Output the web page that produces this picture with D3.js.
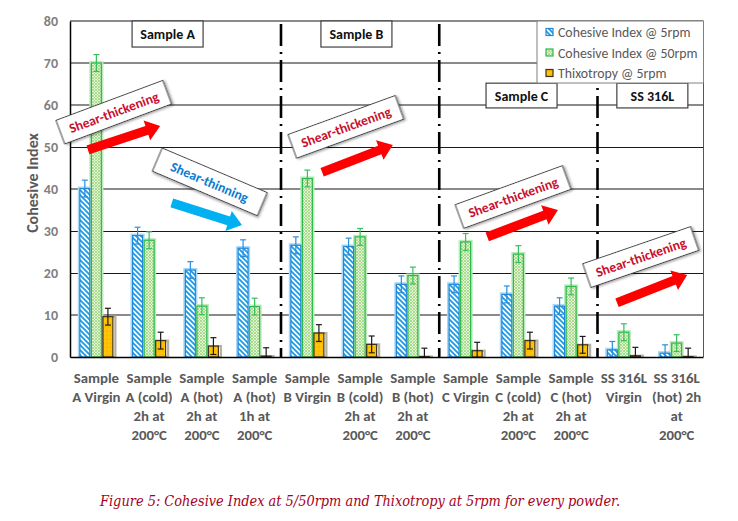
<!DOCTYPE html>
<html><head><meta charset="utf-8">
<script src="https://cdn.jsdelivr.net/npm/d3@7"></script>
<style>
body{margin:0;background:#fff}
svg{display:block}
text{font-family:Carlito,Lato,"Liberation Sans",sans-serif}
</style>
</head><body>
<svg id="chart" width="738" height="521"></svg>
<script>
// ---------- data ----------
const categories = ["A Virgin","A cold 2h","A hot 2h","A hot 1h","B Virgin","B cold 2h","B hot 2h","C Virgin","C cold 2h","C hot 2h","SS Virgin","SS hot 2h"];
const categoryLabels = [
  ["Sample","A Virgin"],
  ["Sample","A (cold)","2h at","200°C"],
  ["Sample","A (hot)","2h at","200°C"],
  ["Sample","A (hot)","1h at","200°C"],
  ["Sample","B Virgin"],
  ["Sample","B (cold)","2h at","200°C"],
  ["Sample","B (hot)","2h at","200°C"],
  ["Sample","C Virgin"],
  ["Sample","C (cold)","2h at","200°C"],
  ["Sample","C (hot)","2h at","200°C"],
  ["SS 316L","Virgin"],
  ["SS 316L","(hot) 2h","at","200°C"]
];
const seriesNames = ["Cohesive Index @ 5rpm","Cohesive Index @ 50rpm","Thixotropy @ 5rpm"];
const ci5     = [40.1, 28.9, 20.7, 25.9, 26.6, 26.3, 17.3, 17.3, 14.9, 12.1, 1.7, 0.9];
const ci5Err  = [2.0, 2.0, 2.0, 2.0, 2.0, 2.0, 2.0, 2.0, 2.0, 2.0, 2.0, 2.0];
const ci50    = [70.0, 27.8, 12.1, 12.0, 42.5, 28.6, 19.4, 27.4, 24.5, 16.8, 5.9, 3.3];
const ci50Err = [2.0, 2.0, 2.0, 2.0, 2.0, 2.0, 2.0, 2.0, 2.0, 2.0, 2.0, 2.0];
const thix    = [9.6, 3.9, 2.6, 0.2, 5.7, 3.0, 0.1, 1.5, 3.9, 2.9, 0.3, 0.1];
const thixErr = [2.0, 2.0, 2.0, 2.0, 2.0, 2.0, 2.0, 2.0, 2.0, 2.0, 2.0, 2.0];
const yTicks = [0, 10, 20, 30, 40, 50, 60, 70, 80];
const groupBreaks = [4, 7, 10];               // separator before these category indices
const groupBoxes = [
  {label:"Sample A", at:1.85, top:80,   bottom:73.8},
  {label:"Sample B", at:5.43, top:80,   bottom:73.8},
  {label:"Sample C", at:8.56, top:65.2, bottom:59.3},
  {label:"SS 316L",  at:11.04,top:65.2, bottom:59.3}
];
// annotations: box centre (category units, value units), arrow tail->tip
const annotations = [
  {text:"Shear-thickening", color:"#C8102E", arrow:"#FF0000", cx:0.83, cy:58.3, ang:-20.5, x0:0.34, y0:49.3, x1:1.71, y1:55.0},
  {text:"Shear-thinning",   color:"#0B7BD0", arrow:"#00B0F0", cx:2.65, cy:41.7, ang:23,    x0:1.93, y0:36.7, x1:3.26, y1:31.4},
  {text:"Shear-thickening", color:"#C8102E", arrow:"#FF0000", cx:5.23, cy:54.8, ang:-20,   x0:4.78, y0:44.0, x1:6.12, y1:50.5},
  {text:"Shear-thickening", color:"#C8102E", arrow:"#FF0000", cx:8.40, cy:38.1, ang:-20,   x0:7.91, y0:28.6, x1:9.25, y1:35.0},
  {text:"Shear-thickening", color:"#C8102E", arrow:"#FF0000", cx:10.82,cy:23.8, ang:-19,   x0:10.37,y0:12.9, x1:11.70,y1:19.5}
];
const caption = "Figure 5: Cohesive Index at 5/50rpm and Thixotropy at 5rpm for every powder.";

// ---------- layout ----------
const W = 738, H = 521;
const M = {left:70, right:35, top:21, bottom:164};
const svg = d3.select("#chart");

const x = d3.scaleBand().domain(categories).range([M.left, W - M.right]).padding(0);
const bw = x.bandwidth();
const xc = d3.scaleLinear().domain([0, categories.length]).range([M.left, W - M.right]);
const y = d3.scaleLinear().domain([0, 80]).range([H - M.bottom, M.top]);
const xs = d3.scaleBand().domain(seriesNames).range([bw/2 - 17.3, bw/2 + 17.3]).padding(0);

// ---------- patterns ----------
const defs = svg.append("defs");
const pb = defs.append("pattern").attr("id","pBlue").attr("patternUnits","userSpaceOnUse").attr("width",5).attr("height",5);
pb.append("rect").attr("width",5).attr("height",5).attr("fill","#fff");
pb.append("path").attr("d","M-1,-1 L6,6 M-1,4 L1,6 M4,-1 L6,1").attr("stroke","#1E9BE6").attr("stroke-width",1.8);
const pg = defs.append("pattern").attr("id","pGreen").attr("patternUnits","userSpaceOnUse").attr("width",3).attr("height",3);
pg.append("rect").attr("width",3).attr("height",3).attr("fill","#E3F5D6");
pg.append("path").attr("d","M0,0 L3,3 M0,3 L3,0").attr("stroke","#9ED67E").attr("stroke-width",0.8);
const po = defs.append("pattern").attr("id","pOrange").attr("patternUnits","userSpaceOnUse").attr("width",4).attr("height",4);
po.append("rect").attr("width",4).attr("height",4).attr("fill","#FFC000");
po.append("circle").attr("cx",1).attr("cy",1).attr("r",0.6).attr("fill","#FFD966");
po.append("circle").attr("cx",3).attr("cy",3).attr("r",0.6).attr("fill","#F0B000");
const shadow = defs.append("filter").attr("id","shd").attr("x","-20%").attr("y","-20%").attr("width","150%").attr("height","150%");
shadow.append("feDropShadow").attr("dx",1.5).attr("dy",1.5).attr("stdDeviation",1).attr("flood-color","#000").attr("flood-opacity",0.35);

const seriesStyle = [
  {fill:"url(#pBlue)",  stroke:"#1F86D8", glow:"#A8D8F6", err:"#2B8FDD"},
  {fill:"url(#pGreen)", stroke:"#2DB84B", glow:"#BDE9BF", err:"#35C05A"},
  {fill:"url(#pOrange)",stroke:"#3A3320", glow:"#B5B0A0", err:"#1A1A1A"}
];
const seriesVals = [ci5, ci50, thix];
const seriesErrs = [ci5Err, ci50Err, thixErr];

// ---------- gridlines ----------
const darkGrid = [20, 30, 50];
svg.append("g").selectAll("line").data(yTicks.filter(v => v > 0)).join("line")
  .attr("x1", M.left).attr("x2", W - M.right)
  .attr("y1", d => darkGrid.includes(d) ? Math.round(y(d)) + 0.5 : y(d))
  .attr("y2", d => darkGrid.includes(d) ? Math.round(y(d)) + 0.5 : y(d))
  .attr("stroke", d => darkGrid.includes(d) ? "#1a1a1a" : "#8a8a8a")
  .attr("stroke-width", d => darkGrid.includes(d) ? 1 : 1.8);
svg.append("line").attr("x1", W - M.right + 0.5).attr("x2", W - M.right + 0.5)
  .attr("y1", M.top).attr("y2", y(0)).attr("stroke","#555").attr("stroke-width",1);

// ---------- bars ----------
const rows = [];
categories.forEach((c, i) => seriesNames.forEach((s, k) => rows.push({c, i, s, k, v: seriesVals[k][i], e: seriesErrs[k][i]})));

const barG = svg.append("g");
const bx = d => x(d.c) + xs(d.s) + 0.8;
const bwid = xs.bandwidth() - 1.6;
barG.selectAll("rect.glow").data(rows).join("rect").attr("class","glow")
  .attr("x", d => bx(d) - (d.k === 2 ? 0 : 1)).attr("y", d => y(d.v) - (d.k === 2 ? 0 : 1))
  .attr("width", d => bwid + (d.k === 2 ? 2.5 : 2)).attr("height", d => y(0) - y(d.v) + (d.k === 2 ? 0 : 1))
  .attr("fill","none").attr("stroke", d => seriesStyle[d.k].glow).attr("stroke-width", 2.2);
barG.selectAll("rect.bar").data(rows).join("rect").attr("class","bar")
  .attr("x", bx).attr("y", d => y(d.v))
  .attr("width", bwid).attr("height", d => y(0) - y(d.v))
  .attr("fill", d => seriesStyle[d.k].fill)
  .attr("stroke", d => seriesStyle[d.k].stroke).attr("stroke-width", 1.2);

// ---------- error bars ----------
const errG = svg.append("g");
const ex = d => bx(d) + bwid/2;
errG.selectAll("line.v").data(rows).join("line").attr("class","v")
  .attr("x1", ex).attr("x2", ex)
  .attr("y1", d => y(d.v + d.e)).attr("y2", d => y(Math.max(0, d.v - d.e)))
  .attr("stroke", d => seriesStyle[d.k].err).attr("stroke-width", 1.2);
errG.selectAll("line.t").data(rows).join("line").attr("class","t")
  .attr("x1", d => ex(d) - 3).attr("x2", d => ex(d) + 3)
  .attr("y1", d => y(d.v + d.e)).attr("y2", d => y(d.v + d.e))
  .attr("stroke", d => seriesStyle[d.k].err).attr("stroke-width", 1.2);
errG.selectAll("line.b").data(rows.filter(d => d.v - d.e > 0)).join("line").attr("class","b")
  .attr("x1", d => ex(d) - 3).attr("x2", d => ex(d) + 3)
  .attr("y1", d => y(d.v - d.e)).attr("y2", d => y(d.v - d.e))
  .attr("stroke", d => seriesStyle[d.k].err).attr("stroke-width", 1.2);

// ---------- axes ----------
const yAxis = svg.append("g").attr("transform", `translate(${M.left},0)`)
  .call(d3.axisLeft(y).tickValues(yTicks).tickSize(0).tickPadding(12));
yAxis.select(".domain").attr("stroke","#000").attr("stroke-width",1.5);
yAxis.selectAll("text").attr("font-size",14).attr("font-weight","bold").attr("fill","#7F7F7F")
  .style("font-family","Carlito,Lato,sans-serif");

const xAxis = svg.append("g").attr("transform", `translate(0,${y(0)})`)
  .call(d3.axisBottom(x).tickSize(0).tickFormat(""));
xAxis.select(".domain").attr("stroke","#000").attr("stroke-width",1.5);
xAxis.selectAll(".tick text").remove();

const lblG = svg.append("g");
categories.forEach((c, i) => {
  const t = lblG.append("text").attr("text-anchor","middle")
    .attr("font-size",14.8).attr("font-weight","bold").attr("fill","#595959");
  categoryLabels[i].forEach((ln, j) => {
    t.append("tspan").attr("x", x(c) + bw/2).attr("y", y(0) + 25.5 + j*19).text(ln);
  });
});

svg.append("text").attr("transform", `translate(38,${(y(0)+y(80))/2 - 6}) rotate(-90)`)
  .attr("text-anchor","middle").attr("font-size",16).attr("font-weight","600").attr("fill","#595959")
  .text("Cohesive Index");

// ---------- separators ----------
svg.append("g").selectAll("line").data(groupBreaks).join("line")
  .attr("x1", d => xc(d)).attr("x2", d => xc(d))
  .attr("y1", y(80) + 3).attr("y2", y(0))
  .attr("stroke","#000").attr("stroke-width",2.6).attr("stroke-dasharray","22 6 2 6");

// ---------- group label boxes ----------
const gb = svg.append("g");
groupBoxes.forEach(b => {
  const cx = xc(b.at), w = 71, y0 = y(b.top), h = y(b.bottom) - y(b.top);
  gb.append("rect").attr("x", cx - w/2).attr("y", y0).attr("width", w).attr("height", h)
    .attr("fill","#fff").attr("stroke","#404040").attr("stroke-width",1.2);
  gb.append("text").attr("x", cx).attr("y", y0 + h/2 + 5).attr("text-anchor","middle")
    .attr("font-size",14).attr("font-weight","bold").attr("fill","#111").text(b.label);
});

// ---------- legend ----------
const lg = svg.append("g");
const lx0 = 537, ly0 = y(80), lw = (W - M.right) - lx0 + 0.5, lh = 62;
lg.append("rect").attr("x", lx0).attr("y", ly0).attr("width", lw).attr("height", lh)
  .attr("fill","#fff").attr("stroke","#808080").attr("stroke-width",1);
seriesNames.forEach((s, k) => {
  const yy = ly0 + 11 + k*20.5;
  lg.append("rect").attr("x", lx0 + 9).attr("y", yy - 3.5).attr("width", 7).attr("height", 7)
    .attr("fill", seriesStyle[k].fill).attr("stroke", seriesStyle[k].stroke).attr("stroke-width",1.2);
  lg.append("text").attr("x", lx0 + 21).attr("y", yy + 5).attr("font-size",13.8)
    .attr("fill","#595959").text(s);
});

// ---------- annotations ----------
const an = svg.append("g");
annotations.forEach(a => {
  const X0 = xc(a.x0), Y0 = y(a.y0), X1 = xc(a.x1), Y1 = y(a.y1);
  const L = Math.hypot(X1 - X0, Y1 - Y0), ang = Math.atan2(Y1 - Y0, X1 - X0) * 180 / Math.PI;
  const sw = 4.6, hw = 10.5, hl = 14;
  an.append("path")
    .attr("d", `M0,${-sw} L${L-hl},${-sw} L${L-hl},${-hw} L${L},0 L${L-hl},${hw} L${L-hl},${sw} L0,${sw} Z`)
    .attr("fill", a.arrow).attr("transform", `translate(${X0},${Y0}) rotate(${ang})`);
  const g = an.append("g").attr("transform", `translate(${xc(a.cx)},${y(a.cy)}) rotate(${a.ang})`);
  g.append("rect").attr("x",-57).attr("y",-12.5).attr("width",114).attr("height",25)
    .attr("fill","#fff").attr("stroke","#404040").attr("stroke-width",1).attr("filter","url(#shd)");
  g.append("text").attr("x",0).attr("y",5).attr("text-anchor","middle")
    .attr("font-size",13.6).attr("font-weight","bold").attr("fill", a.color).text(a.text);
});

// ---------- caption ----------
svg.append("text").attr("x", 100).attr("y", 506)
  .attr("font-size",15).attr("font-style","italic").attr("fill","#A50021")
  .attr("textLength", 520).attr("lengthAdjust","spacingAndGlyphs")
  .style("font-family","'DejaVu Serif','Liberation Serif',serif")
  .text(caption);
</script>
</body></html>
